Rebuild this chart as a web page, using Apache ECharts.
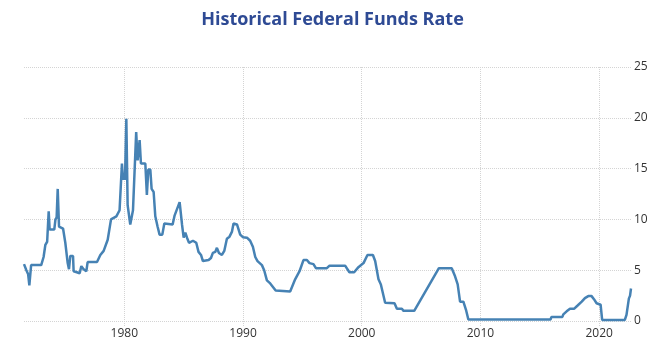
<!DOCTYPE html>
<html>
<head>
<meta charset="utf-8">
<script src="https://cdn.jsdelivr.net/npm/echarts@6/dist/echarts.min.js"></script>
<style>
  html, body { margin: 0; padding: 0; background: #fff; }
  #chart { width: 665px; height: 354px; }
</style>
</head>
<body>
<div id="chart"></div>
<script>
// decimal year of each reading
const years = [
  1971.55, 1971.75, 1971.9, 1972.0, 1972.08, 1972.15, 1973.0, 1973.2, 1973.35, 1973.5,
  1973.63, 1973.71, 1974.1, 1974.2, 1974.3, 1974.39, 1974.5, 1974.84, 1975.03, 1975.23,
  1975.34, 1975.45, 1975.68, 1975.73, 1976.0, 1976.24, 1976.38, 1976.57, 1976.8, 1976.91,
  1977.7, 1977.98, 1978.26, 1978.6, 1978.88, 1979.33, 1979.6, 1979.8, 1979.89, 1980.06,
  1980.17, 1980.28, 1980.5, 1980.73, 1981.0, 1981.12, 1981.29, 1981.4, 1981.77, 1981.9,
  1982.02, 1982.19, 1982.3, 1982.47, 1982.61, 1982.8, 1982.97, 1983.2, 1983.37, 1984.07,
  1984.24, 1984.38, 1984.66, 1984.86, 1985.0, 1985.14, 1985.28, 1985.45, 1985.78, 1986.06,
  1986.25, 1986.46, 1986.62, 1987.1, 1987.3, 1987.46, 1987.66, 1987.8, 1987.97, 1988.22,
  1988.42, 1988.64, 1988.86, 1989.07, 1989.2, 1989.49, 1989.76, 1989.99, 1990.33, 1990.6,
  1990.83, 1991.03, 1991.22, 1991.59, 1991.78, 1992.01, 1992.29, 1992.75, 1993.97, 1994.39,
  1994.76, 1995.09, 1995.38, 1995.6, 1995.93, 1996.14, 1997.06, 1997.29, 1998.6, 1998.96,
  1999.36, 1999.72, 2000.15, 2000.48, 2000.94, 2001.13, 2001.41, 2001.61, 2001.97, 2002.76,
  2002.96, 2003.38, 2003.52, 2004.42, 2006.5, 2007.58, 2007.86, 2008.08, 2008.28, 2008.56,
  2008.78, 2008.98, 2015.9, 2015.98, 2016.9, 2016.98, 2017.26, 2017.54, 2017.88, 2018.16,
  2018.53, 2018.8, 2019.08, 2019.36, 2019.56, 2019.78, 2020.12, 2020.25, 2022.16, 2022.3,
  2022.5, 2022.6, 2022.68
];
// rate in percent
const rates = [
  5.6, 5.0, 4.6, 3.5, 3.5, 5.5, 5.5, 6.3, 7.5, 7.8,
  10.8, 9.0, 9.0, 10.0, 10.2, 13.0, 9.3, 9.1, 7.7, 5.7,
  5.1, 6.4, 6.4, 4.9, 4.8, 4.7, 5.4, 5.1, 4.9, 5.8,
  5.8, 6.5, 6.9, 8.0, 10.0, 10.3, 10.9, 15.5, 14.0, 14.0,
  19.9, 11.4, 9.5, 10.9, 18.6, 15.8, 17.8, 15.5, 15.5, 12.4,
  14.9, 14.9, 13.0, 12.7, 10.3, 9.3, 8.5, 8.5, 9.6, 9.5,
  10.4, 10.5, 11.7, 9.5, 8.2, 8.7, 8.2, 7.7, 7.9, 7.7,
  6.8, 6.5, 5.9, 6.0, 6.2, 6.7, 6.8, 7.2, 6.7, 6.5,
  6.9, 8.1, 8.3, 8.8, 9.6, 9.5, 8.5, 8.25, 8.2, 7.9,
  7.3, 6.3, 5.9, 5.5, 5.0, 4.0, 3.7, 3.0, 2.9, 4.1,
  4.9, 6.0, 6.0, 5.7, 5.6, 5.2, 5.2, 5.45, 5.45, 4.8,
  4.8, 5.3, 5.7, 6.5, 6.5, 5.9, 4.1, 3.6, 1.8, 1.75,
  1.2, 1.2, 1.0, 1.0, 5.2, 5.2, 4.4, 3.6, 1.9, 1.9,
  1.1, 0.15, 0.15, 0.4, 0.4, 0.65, 0.95, 1.2, 1.2, 1.5,
  1.9, 2.25, 2.45, 2.45, 2.15, 1.75, 1.6, 0.1, 0.1, 0.6,
  2.2, 2.5, 3.2
];
const yearTicks = [1980, 1990, 2000, 2010, 2020];
const rateTicks = [0, 5, 10, 15, 20, 25];

const chart = echarts.init(document.getElementById('chart'));

const gridStyle = { color: '#d4d4d4', type: [1, 1], width: 1 };

chart.setOption({
  animation: false,
  title: {
    text: 'Historical Federal Funds Rate',
    left: 'center',
    top: 6,
    textStyle: {
      fontFamily: 'Open Sans',
      fontWeight: 'bold',
      fontSize: 18,
      color: '#2e4a94'
    }
  },
  grid: {
    left: 24,
    right: 34,
    top: 67,
    bottom: 33,
    outerBoundsMode: 'none'
  },
  xAxis: {
    type: 'value',
    min: 1971.55,
    max: 2022.68,
    axisLine: { show: false },
    axisTick: {
      show: true,
      length: 5,
      customValues: yearTicks,
      lineStyle: gridStyle
    },
    splitLine: { show: true, lineStyle: gridStyle },
    axisLabel: {
      customValues: yearTicks,
      margin: 7,
      fontFamily: 'Open Sans',
      fontSize: 12,
      color: '#333',
      formatter: (v) => String(v)
    }
  },
  yAxis: {
    type: 'value',
    position: 'right',
    min: 0,
    max: 25,
    interval: 5,
    axisLine: { show: false },
    axisTick: { show: false },
    splitLine: { show: true, lineStyle: gridStyle },
    axisLabel: {
      margin: 3,
      fontFamily: 'Open Sans',
      fontSize: 12,
      color: '#333',
      formatter: (v) => (rateTicks.includes(v) ? String(v) : '')
    }
  },
  series: [{
    type: 'line',
    data: years.map((y, i) => [y, rates[i]]),
    showSymbol: false,
    symbol: 'none',
    lineStyle: { color: '#4682b4', width: 2.5 },
    itemStyle: { color: '#4682b4' }
  }]
});
</script>
</body>
</html>
